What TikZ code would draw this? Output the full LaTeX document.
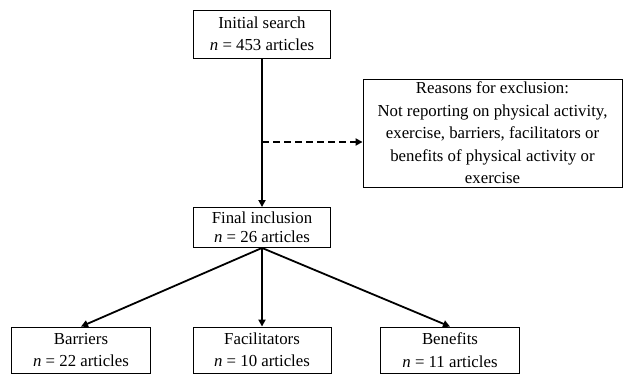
\documentclass[tikz,border=0pt]{standalone}
\usepackage{fontspec}
\setmainfont{Liberation Serif}
\usetikzlibrary{arrows.meta}
\begin{document}
\begin{tikzpicture}[x=1pt,y=-1pt,
  box/.style={draw,line width=0.9pt,align=center,inner sep=0pt,
    font=\fontsize{16.8}{22.5}\selectfont},
  arr/.style={line width=1.8pt,-{Triangle[length=7pt,width=7pt]}},
  darr/.style={line width=1.8pt,dash pattern=on 7pt off 4pt,-{Triangle[length=7pt,width=7pt]}}]
\useasboundingbox (0,0) rectangle (624,374);
\node[box,minimum width=137pt,minimum height=48pt] (top) at (262,34) {Initial search\\ \textit{n} = 453 articles};
\node[box,minimum width=259pt,minimum height=108pt] (reasons) at (492.5,133) {Reasons for exclusion:\\Not reporting on physical activity,\\exercise, barriers, facilitators or\\benefits of physical activity or\\exercise};
\node[box,minimum width=137pt,minimum height=40pt,font=\fontsize{16.8}{19.5}\selectfont] (final) at (262,227.5) {Final inclusion\\ \textit{n} = 26 articles};
\node[box,minimum width=139pt,minimum height=46pt] (barriers) at (81,350) {Barriers\\ \textit{n} = 22 articles};
\node[box,minimum width=138pt,minimum height=46pt] (facil) at (262,350) {Facilitators\\ \textit{n} = 10 articles};
\node[box,minimum width=139pt,minimum height=46pt] (benefits) at (450,350) {Benefits\\ \textit{n} = 11 articles};
\coordinate (d) at (262,142);
\draw[arr] (top.south) -- (final.north);
\draw[darr] (d) -- (d -| reasons.west);
\draw[arr] (final.south) -- (barriers.north);
\draw[arr] (final.south) -- (facil.north);
\draw[arr] (final.south) -- (benefits.north);
\end{tikzpicture}
\end{document}
